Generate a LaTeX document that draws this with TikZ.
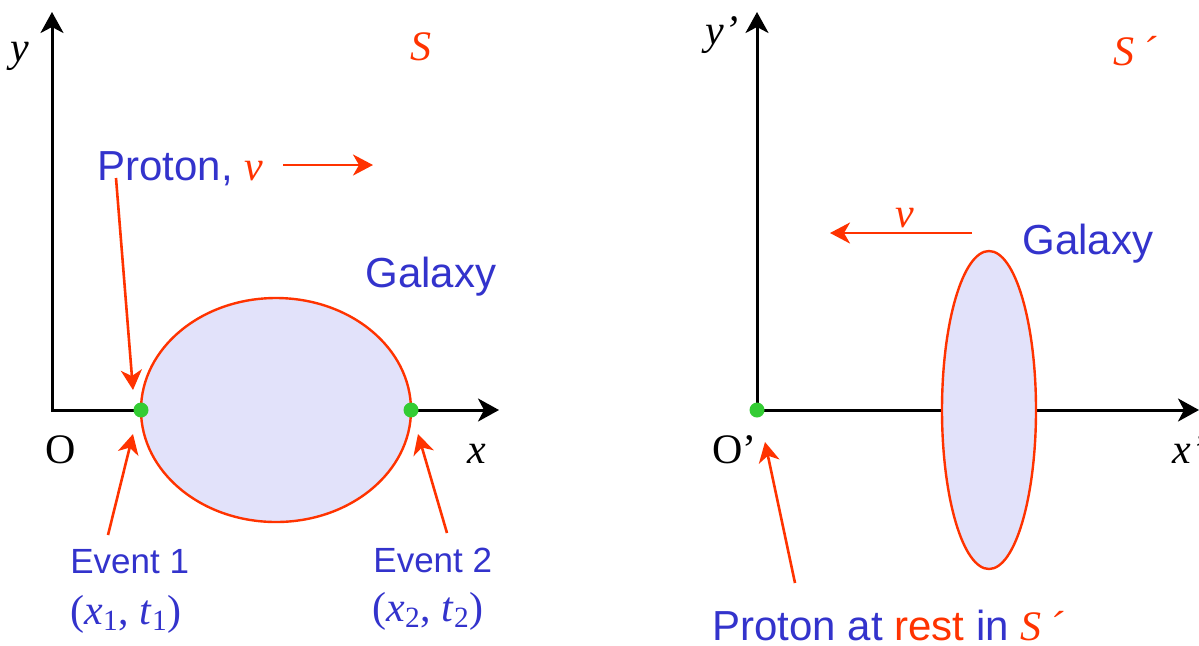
\documentclass[tikz,border=0pt]{standalone}
\usepackage{fontspec}
\setmainfont{Liberation Serif}
\setsansfont{Liberation Sans}
\usetikzlibrary{arrows.meta}
\definecolor{rouge}{RGB}{255,51,0}
\definecolor{bleu}{RGB}{51,51,204}
\definecolor{vert}{RGB}{51,204,51}
\definecolor{lavande}{RGB}{226,226,250}
\tikzset{
    axe/.style={line width=1.5pt, {Stealth[length=10.5pt,width=11.5pt,inset=3pt]}-{Stealth[length=10.5pt,width=11.5pt,inset=3pt]}},
    fleche/.style={rouge, line width=1.3pt, -{Stealth[length=10pt,width=10.5pt,inset=3pt]}},
    galaxie/.style={draw=rouge, fill=lavande, line width=1.2pt},
    evt/.style={circle, fill=vert, inner sep=0pt, minimum size=7.5pt},
    etiq/.style={inner sep=0pt, anchor=base west},
    grand/.style={font=\fontsize{21}{24}\selectfont},
    moyen/.style={font=\fontsize{17.5}{20}\sffamily\selectfont, text=bleu}
}
\begin{document}
\begin{tikzpicture}[x=0.5pt, y=-0.5pt]
    \useasboundingbox (0,0) rectangle (1199,645);

    % Repere S
    \coordinate (O) at (52,410);
    \coordinate (ytip) at (52,12);
    \coordinate (xtip) at (499,410);
    \draw[axe] (ytip) -- (O) -- (xtip);
    \node[etiq, grand] (ylab) at (10,61) {\itshape y};
    \node[etiq, grand] (xlab) at (467,463) {\itshape x};
    \node[etiq, grand] (Olab) at (45,463) {O};
    \node[etiq, grand, text=rouge] (S) at (410,60) {\itshape S};

    % Galaxie dans S
    \draw[galaxie] (276,410) ellipse [x radius=135, y radius=112];
    \node[evt] (e1) at (141,410) {};
    \node[evt] (e2) at (411,410) {};
    \node[etiq, grand, font=\fontsize{21}{24}\sffamily\selectfont, text=bleu] (gal) at (365,287) {Galaxy};

    % Proton en mouvement
    \node[etiq, grand] (proton) at (97,180) {\sffamily\color{bleu}Proton, {\rmfamily\itshape\color{rouge}v}};
    \coordinate (vA) at (283,165);
    \coordinate (vB) at (373,165);
    \draw[fleche] (vA) -- (vB);
    \coordinate (p1) at (116,178);
    \coordinate (p2) at (133,390);
    \draw[fleche] (p1) -- (p2);

    % Evenements
    \node[etiq, moyen] (ev1) at (70,573) {Event 1};
    \node[etiq, grand, text=bleu] (xt1) at (70,624) {(\textit{x}\textsubscript{1}, \textit{t}\textsubscript{1})};
    \node[etiq, moyen] (ev2) at (373,572) {Event 2};
    \node[etiq, grand, text=bleu] (xt2) at (372,621) {(\textit{x}\textsubscript{2}, \textit{t}\textsubscript{2})};
    \coordinate (a1) at (108,535);
    \coordinate (b1) at (133,434);
    \draw[fleche] (a1) -- (b1);
    \coordinate (a2) at (447,533);
    \coordinate (b2) at (418,434);
    \draw[fleche] (a2) -- (b2);

    % Repere S'
    \coordinate (Op) at (757,410);
    \coordinate (yptip) at (757,12);
    \coordinate (xptip) at (1199,410);
    \draw[axe] (yptip) -- (Op) -- (xptip);
    \node[etiq, grand] (yplab) at (705,44) {\itshape y’};
    \node[etiq, grand] (xplab) at (1172,463) {\itshape x’};
    \node[etiq, grand] (Oplab) at (712,463) {O’};
    \node[etiq, grand, text=rouge] (Sp) at (1113,65) {\itshape S\hspace{4pt}´};

    % Galaxie contractee
    \draw[galaxie] (989,410) ellipse [x radius=47, y radius=159];
    \node[etiq, grand, font=\fontsize{21}{24}\sffamily\selectfont, text=bleu] (galp) at (1022,254) {Galaxy};
    \coordinate (wA) at (972,233);
    \coordinate (wB) at (830,233);
    \draw[fleche] (wA) -- (wB);
    \node[etiq, grand, text=rouge] (vp) at (895,227) {\itshape v};

    % Proton au repos
    \node[evt] (pr) at (Op) {};
    \node[etiq, grand] (repos) at (712,640) {\sffamily\color{bleu}Proton at {\color{rouge}rest} in {\rmfamily\itshape\color{rouge}S\hspace{4pt}´}};
    \coordinate (r1) at (795,583);
    \coordinate (r2) at (765,442);
    \draw[fleche] (r1) -- (r2);
\end{tikzpicture}
\end{document}
